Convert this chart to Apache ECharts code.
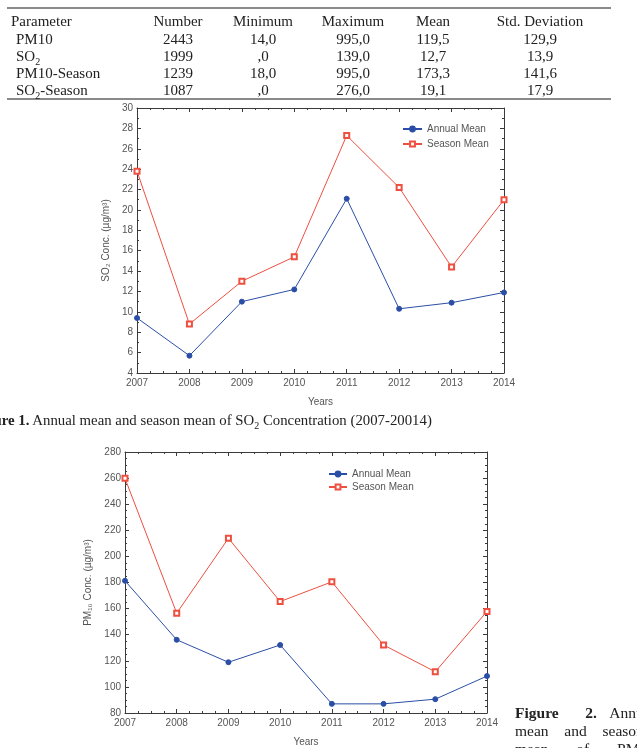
<!DOCTYPE html>
<html>
<head>
<meta charset="utf-8">
<script src="https://cdn.jsdelivr.net/npm/echarts@6/dist/echarts.min.js"></script>
<style>
  html, body { margin: 0; padding: 0; background: #fff; }
  body { width: 637px; height: 748px; position: relative; overflow: hidden; font-family: "Liberation Serif", "DejaVu Serif", serif; color: #222; }
  #chart { position: absolute; left: 0; top: 0; width: 637px; height: 748px; }
  .cell { position: absolute; font-size: 15px; line-height: 17px; white-space: nowrap; }
  .c { transform: translateX(-50%); }
  .rule { position: absolute; left: 7px; width: 604px; height: 0; border-top: 2px solid #8a8a8a; }
  .cap { position: absolute; font-size: 14.8px; line-height: 18px; white-space: nowrap; }
  .just { position: absolute; left: 515px; width: 140px; font-size: 15.5px; line-height: 18px; text-align: justify; text-align-last: justify; white-space: nowrap; }
</style>
</head>
<body>
<div id="chart"></div>
<div id="table"></div>
<div class="cap" style="left:-27px; top:411px;"><b>Figure 1.</b> Annual mean and season mean of SO<sub style="font-size:10px">2</sub> Concentration (2007-20014)</div>
<div class="just" style="top:704px;"><b>Figure&nbsp;&nbsp;2.</b> Annual</div>
<div class="just" style="top:722px;">mean and seasonal</div>
<div class="just" style="top:740px;">mean of PM10</div>
<script>
// table contents
const tableHeader = ['Parameter', 'Number', 'Minimum', 'Maximum', 'Mean', 'Std. Deviation'];
const tableParams = ['PM10', 'SO<sub style="font-size:10px">2</sub>', 'PM10-Season', 'SO<sub style="font-size:10px">2</sub>-Season'];
const tableNumber = ['2443', '1999', '1239', '1087'];
const tableMin = ['14,0', ',0', '18,0', ',0'];
const tableMax = ['995,0', '139,0', '995,0', '276,0'];
const tableMean = ['119,5', '12,7', '173,3', '19,1'];
const tableStd = ['129,9', '13,9', '141,6', '17,9'];

// chart data
const years = [2007, 2008, 2009, 2010, 2011, 2012, 2013, 2014];
const so2Annual = [9.4, 5.7, 11.0, 12.2, 21.1, 10.3, 10.9, 11.9];
const so2Season = [23.8, 8.8, 13.0, 15.4, 27.3, 22.2, 14.4, 21.0];
const pm10Annual = [181.3, 136.1, 118.9, 132.1, 87.0, 87.0, 90.6, 108.3];
const pm10Season = [259.8, 156.5, 213.9, 165.4, 180.5, 132.1, 111.6, 157.8];

// build the table
(function () {
  const t = document.getElementById('table');
  const colX = [null, 178, 263, 353, 433, 540];
  const rowY = [13, 31, 48, 65, 82];
  let html = '<div class="rule" style="top:7px"></div><div class="rule" style="top:98px"></div>';
  tableHeader.forEach(function (h, i) {
    if (i === 0) html += '<div class="cell" style="left:11px;top:' + rowY[0] + 'px">' + h + '</div>';
    else html += '<div class="cell c" style="left:' + colX[i] + 'px;top:' + rowY[0] + 'px">' + h + '</div>';
  });
  const cols = [tableNumber, tableMin, tableMax, tableMean, tableStd];
  tableParams.forEach(function (p, r) {
    const y = rowY[r + 1];
    html += '<div class="cell" style="left:16px;top:' + y + 'px">' + p + '</div>';
    cols.forEach(function (col, i) {
      html += '<div class="cell c" style="left:' + colX[i + 1] + 'px;top:' + y + 'px">' + col[r] + '</div>';
    });
  });
  t.innerHTML = html;
})();

const chart = echarts.init(document.getElementById('chart'), null, { renderer: 'canvas' });

const axisColor = '#3a3a3a';
const labelStyle = { color: '#555', fontSize: 10, fontFamily: 'Liberation Sans, Arial, sans-serif' };
const blue = '#2a4ea6';
const red = '#ee4f3f';

function pairs(vals) {
  return years.map(function (y, i) { return [y, vals[i]]; });
}

function xAx(grid, pos, show) {
  return {
    type: 'value', gridIndex: grid, position: pos,
    min: 2007, max: 2014, interval: 1,
    axisLine: { show: true, onZero: false, lineStyle: { color: axisColor, width: 1 } },
    axisTick: { show: true, inside: true, length: 4, lineStyle: { color: axisColor } },
    minorTick: { show: true, splitNumber: 4, length: 2, lineStyle: { color: axisColor } },
    splitLine: { show: false },
    axisLabel: Object.assign({ show: show, margin: 5, formatter: function (v) { return String(v); } }, labelStyle),
    name: show ? 'Years' : '', nameLocation: 'middle', nameGap: 24,
    nameTextStyle: labelStyle
  };
}

function yAx(grid, pos, min, max, step, minor, name, gap) {
  return {
    type: 'value', gridIndex: grid, position: pos,
    min: min, max: max, interval: step,
    axisLine: { show: true, onZero: false, lineStyle: { color: axisColor, width: 1 } },
    axisTick: { show: true, inside: true, length: 4, lineStyle: { color: axisColor } },
    minorTick: { show: true, splitNumber: minor, length: 2, lineStyle: { color: axisColor } },
    splitLine: { show: false },
    axisLabel: Object.assign({ show: name !== '', margin: 4 }, labelStyle),
    name: name, nameLocation: 'middle', nameGap: gap,
    nameTextStyle: labelStyle
  };
}

function lineSeries(name, vals, grid, color, symbol, size) {
  return {
    name: name, type: 'line', xAxisIndex: grid * 2, yAxisIndex: grid * 2,
    data: pairs(vals), symbol: symbol, symbolSize: size,
    itemStyle: { color: color, borderColor: color, borderWidth: 1 },
    lineStyle: { color: color, width: 1 },
    emphasis: { disabled: true }
  };
}

const option = {
  animation: false,
  grid: [
    { left: 137, top: 108, width: 367, height: 265 },
    { left: 125, top: 452, width: 362, height: 264 }
  ],
  xAxis: [
    xAx(0, 'bottom', true), xAx(0, 'top', false),
    xAx(1, 'bottom', true), xAx(1, 'top', false)
  ],
  yAxis: [
    yAx(0, 'left', 4, 30, 2, 2, 'SO\u2082 Conc. (\u00b5g/m\u00b3)', 18), yAx(0, 'right', 4, 30, 2, 2, '', 0),
    yAx(1, 'left', 80, 280, 20, 4, 'PM\u2081\u2080 Conc. (\u00b5g/m\u00b3)', 21), yAx(1, 'right', 80, 280, 20, 4, '', 0)
  ],
  legend: [
    {
      left: 397, top: 119, orient: 'vertical', itemWidth: 19, itemHeight: 6, itemGap: 5,
      data: ['Annual Mean', 'Season Mean'], textStyle: labelStyle, selectedMode: false
    },
    {
      left: 323, top: 464, orient: 'vertical', itemWidth: 18, itemHeight: 6, itemGap: 3,
      data: ['Annual Mean', 'Season Mean'], textStyle: labelStyle, selectedMode: false
    }
  ],
  series: [
    lineSeries('Annual Mean', so2Annual, 0, blue, 'circle', 5),
    lineSeries('Season Mean', so2Season, 0, red, 'emptyRect', 5),
    lineSeries('Annual Mean', pm10Annual, 1, blue, 'circle', 5),
    lineSeries('Season Mean', pm10Season, 1, red, 'emptyRect', 5)
  ]
};

chart.setOption(option);
</script>
</body>
</html>
